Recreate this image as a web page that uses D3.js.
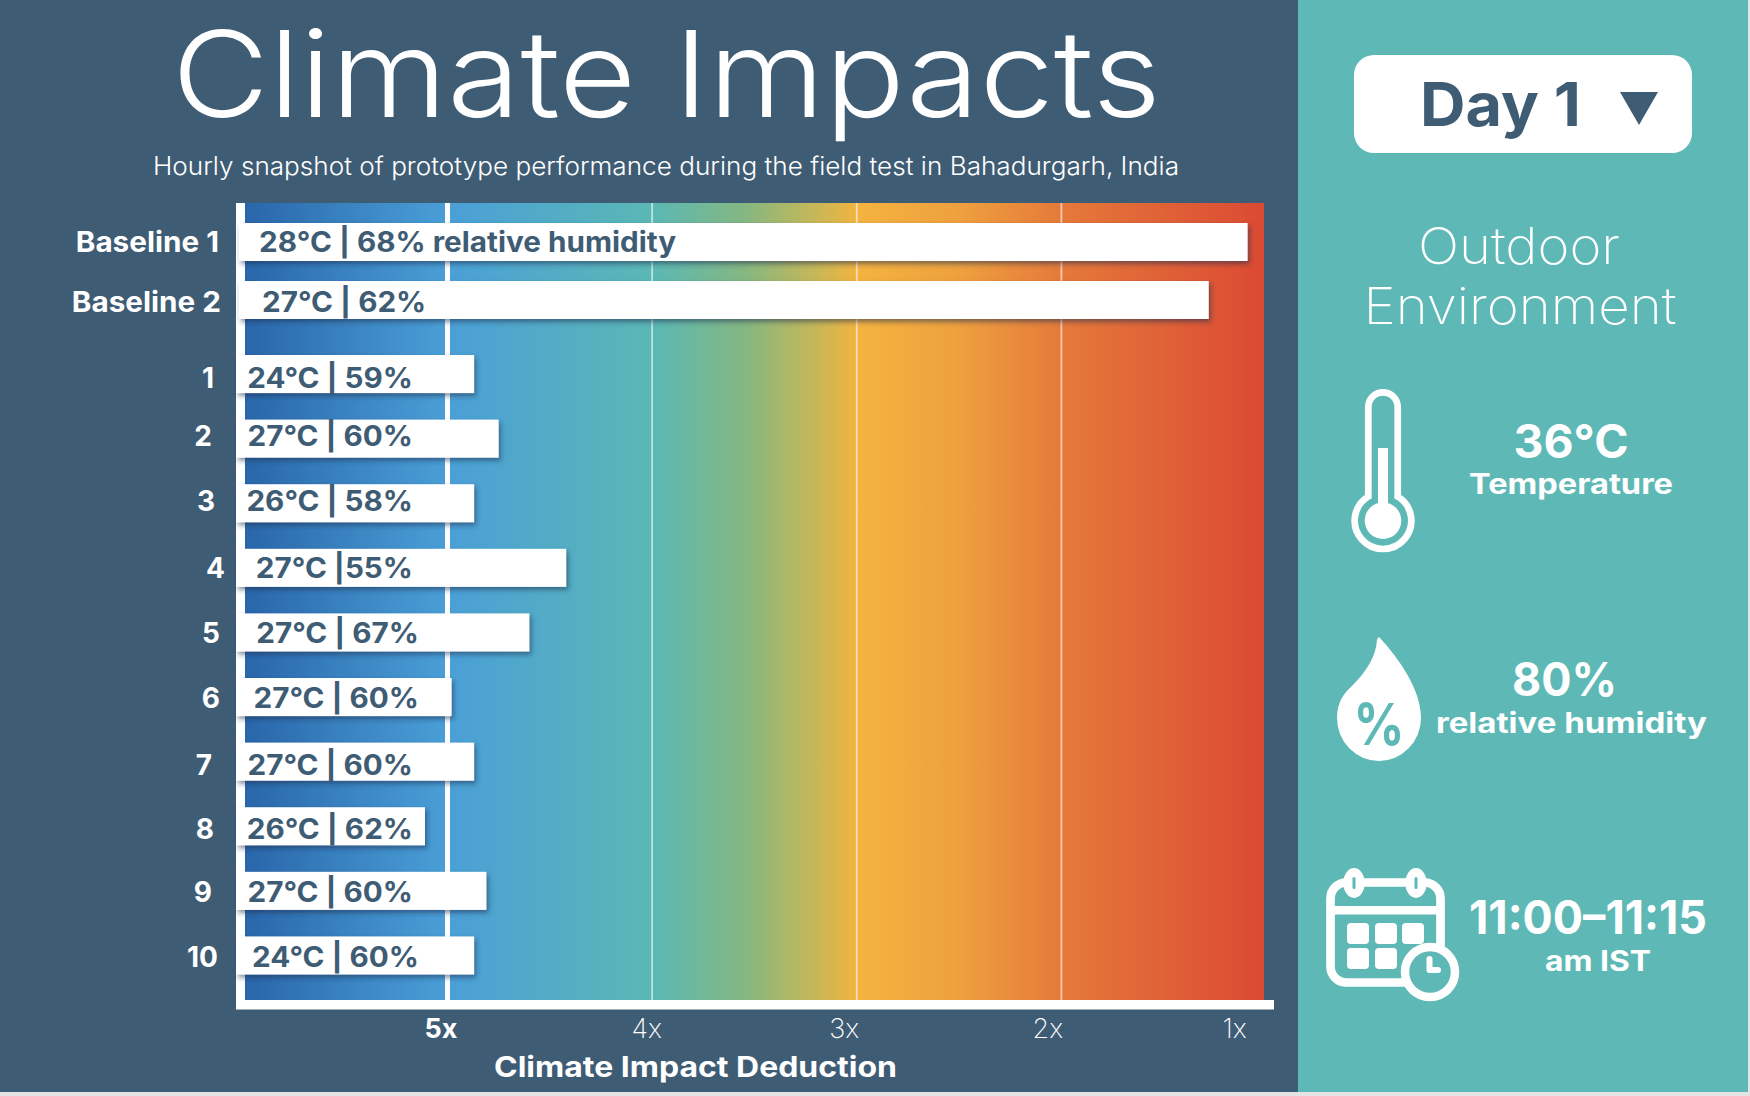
<!DOCTYPE html>
<html><head><meta charset="utf-8">
<script src="https://cdn.jsdelivr.net/npm/d3@7"></script>
<style>
html,body{margin:0;padding:0;background:#e4e4e4;}
svg{display:block;}
text{font-family:Inter,"Open Sans",sans-serif;}
</style></head><body>
<svg id="c" width="1750" height="1096"></svg>
<script>
// ---- data ----
const baselineNames = ["Baseline 1","Baseline 2"];
const baselineValues = [1.09,1.28];
const baselineLabels = ["28°C | 68% relative humidity","27°C | 62%"];
const hours = ["1","2","3","4","5","6","7","8","9","10"];
const hourValues = [4.87,4.75,4.87,4.42,4.60,4.98,4.87,5.11,4.81,4.87];
const hourLabels = ["24°C | 59%","27°C | 60%","26°C | 58%","27°C |55%","27°C | 67%","27°C | 60%","27°C | 60%","26°C | 62%","27°C | 60%","24°C | 60%"];
const axisTicks = [5,4,3,2,1];
const title = "Climate Impacts";
const subtitle = "Hourly snapshot of prototype performance during the field test in Bahadurgarh, India";
const axisTitle = "Climate Impact Deduction";

// ---- layout ----
const DARK="#3f5c75", TEAL="#5eb9b6";
const PLOT={left:245,right:1264,top:203,bottom:1000};
const x=d3.scaleLinear().domain([5,1]).range([447.5,1266]);
const yHour=d3.scaleBand().domain(hours).range([355,974.5]).paddingInner(0.411).paddingOuter(0);
const yBase=d3.scaleBand().domain(baselineNames).range([223,319]).paddingInner(0.345).paddingOuter(0);
const hourBaselineDy=[33,26,27,29,30,30,32,32,30,31];
const baseBaselineDy=[29,31];
const hourLabelEndNudge=[0,0,0,0,6,6,0,0,0,6];
const hourNameRight=[214,212,215,225,220,220,212,214,212,218];
const baseNameRight=[219,221];
const tickLabelNudge={5:-7,4:-6,3:-13,2:-14,1:-32};

const svg=d3.select("#c");
const defs=svg.append("defs");
const grad=defs.append("linearGradient").attr("id","heat")
  .attr("gradientUnits","userSpaceOnUse")
  .attr("x1",PLOT.left).attr("x2",PLOT.right).attr("y1",0).attr("y2",0);
[[245,"#2966aa"],[447,"#4a9fd7"],[654,"#5bb8b4"],[745,"#85b781"],[825,"#d0b752"],[858,"#f4b33f"],[960,"#eea03e"],[1062,"#e5793a"],[1264,"#db4a33"]]
 .forEach(([px,c])=>grad.append("stop").attr("offset",(px-PLOT.left)/(PLOT.right-PLOT.left)).attr("stop-color",c));
const sh=defs.append("filter").attr("id","sh").attr("x","-5%").attr("y","-30%").attr("width","110%").attr("height","170%");
sh.append("feDropShadow").attr("dx",2).attr("dy",3).attr("stdDeviation",2.5).attr("flood-color","#1c3350").attr("flood-opacity",.55);

function fit(sel,k){sel.each(function(){this.setAttribute("lengthAdjust","spacingAndGlyphs");this.setAttribute("textLength",this.getComputedTextLength()*k);});return sel;}
function txt(str,px,py,size,weight,fill,anchor,width){
  const t=svg.append("text").attr("x",px).attr("y",py).attr("font-size",size).attr("font-weight",weight).attr("fill",fill).attr("text-anchor",anchor||"start").text(str);
  if(width){t.attr("lengthAdjust","spacingAndGlyphs").attr("textLength",width);}
  return t;
}

// panels
svg.append("rect").attr("width",1298).attr("height",1092).attr("fill",DARK);
svg.append("rect").attr("x",1298).attr("width",450).attr("height",1092).attr("fill",TEAL);

// title
txt(title,666.5,117,120,300,"#fff","middle",989);
txt(subtitle,666,175,25,300,"#fff","middle",1026);

// plot
svg.append("rect").attr("x",PLOT.left).attr("y",PLOT.top).attr("width",PLOT.right-PLOT.left).attr("height",PLOT.bottom-PLOT.top).attr("fill","url(#heat)");
svg.append("g").selectAll("line").data(axisTicks.filter(d=>d>1)).join("line")
  .attr("x1",d=>x(d)).attr("x2",d=>x(d)).attr("y1",PLOT.top).attr("y2",PLOT.bottom)
  .attr("stroke","#fff").attr("stroke-opacity",d=>d===5?1:.6).attr("stroke-width",d=>d===5?5:1.8);

// axis frame
svg.append("rect").attr("x",236).attr("y",PLOT.top).attr("width",9).attr("height",PLOT.bottom-PLOT.top).attr("fill","#fff");
svg.append("rect").attr("x",236).attr("y",PLOT.bottom).attr("width",1038).attr("height",9.5).attr("fill","#fff");

// tick labels through d3 axis
const axG=svg.append("g").attr("transform",`translate(0,${1009})`)
  .call(d3.axisBottom(x).tickValues(axisTicks).tickSize(0).tickPadding(29).tickFormat(d=>d+"x"));
axG.select(".domain").remove();
axG.selectAll("text")
  .attr("font-family","Inter").attr("font-size",27).attr("fill","#fff")
  .attr("font-weight",d=>d===5?700:200)
  .attr("dy",0).attr("dx",d=>tickLabelNudge[d]);
txt(axisTitle,695.5,1077,28,700,"#fff","middle",403);

// bars
function bars(names,vals,labels,y,x0,dys){
  const g=svg.append("g");
  g.selectAll("rect").data(names).join("rect")
    .attr("x",x0).attr("y",d=>y(d)).attr("height",y.bandwidth())
    .attr("width",(d,i)=>x(vals[i])-x0).attr("fill","#fff").attr("filter","url(#sh)");
}
bars(baselineNames,baselineValues,baselineLabels,yBase,239);
bars(hours,hourValues,hourLabels,yHour,236);

// bar labels
const LK=1.06;
const bl=svg.append("g").selectAll("text").data(baselineLabels).join("text")
  .attr("font-size",28).attr("font-weight",700).attr("fill",DARK)
  .attr("x",(d,i)=>i===0?259:262).attr("y",(d,i)=>yBase(baselineNames[i])+baseBaselineDy[i]).text(d=>d);
fit(bl,LK);
const hl=svg.append("g").selectAll("text").data(hourLabels).join("text")
  .attr("font-size",28).attr("font-weight",700).attr("fill",DARK).attr("text-anchor","end")
  .attr("x",(d,i)=>413+hourLabelEndNudge[i]).attr("y",(d,i)=>yHour(hours[i])+hourBaselineDy[i]).text(d=>d);
fit(hl,LK);

// row names
const bn=svg.append("g").selectAll("text").data(baselineNames).join("text")
  .attr("font-size",28).attr("font-weight",700).attr("fill","#fff").attr("text-anchor","end")
  .attr("x",(d,i)=>baseNameRight[i]).attr("y",(d,i)=>yBase(d)+baseBaselineDy[i]).text(d=>d);
fit(bn,1.06);
svg.append("g").selectAll("text").data(hours).join("text")
  .attr("font-size",28).attr("font-weight",700).attr("fill","#fff").attr("text-anchor","end")
  .attr("x",(d,i)=>hourNameRight[i]).attr("y",(d,i)=>yHour(d)+hourBaselineDy[i]).text(d=>d);

// side panel: dropdown
svg.append("rect").attr("x",1354).attr("y",55).attr("width",338).attr("height",98).attr("rx",20).attr("fill","#fff");
txt("Day 1",1420,126,60,700,DARK,"start",161);
svg.append("path").attr("d",d3.line()([[1620,92],[1658,92],[1639,125]])+"Z").attr("fill",DARK);
txt("Outdoor",1519,264,50,200,"#fff","middle",202);
txt("Environment",1520,324,50,200,"#fff","middle",313);

// thermometer
const tc=1383;
const th=svg.append("g").attr("fill","none").attr("stroke","#fff");
th.append("path").attr("stroke-width",6.7).attr("d",`M${tc-14.7},496.5 V407 A14.7,14.7 0 0 1 ${tc+14.7},407 V496.5 A28.3,28.3 0 1 1 ${tc-14.7},496.5 Z`);
th.append("circle").attr("cx",tc).attr("cy",520.7).attr("r",18.3).attr("fill","#fff").attr("stroke","none");
th.append("rect").attr("x",tc-5).attr("y",448).attr("width",10).attr("height",60).attr("fill","#fff").attr("stroke","none");
txt("36°C",1571,458,46,700,"#fff","middle",115);
txt("Temperature",1571,494,28,700,"#fff","middle",204);

// drop
svg.append("path").attr("fill","#fff").attr("d","M1380,638 C1400,660 1421,690 1421,718 A42,43 0 0 1 1337,718 C1337,702 1344,693 1352,686 C1368,670 1376,655 1377,640 Q1378,636 1380,638 Z");
txt("%",1379,745,58,700,TEAL,"middle",51);
txt("80%",1564.5,696,46,700,"#fff","middle",105);
txt("relative humidity",1571.5,733,28,700,"#fff","middle",271);

// calendar
const cal=svg.append("g");
cal.append("rect").attr("x",1330.5).attr("y",882.5).attr("width",110).attr("height",100).attr("rx",16).attr("fill","none").attr("stroke","#fff").attr("stroke-width",8.7);
cal.append("rect").attr("x",1330).attr("y",906).attr("width",111).attr("height",8.5).attr("fill","#fff");
[1354,1416].forEach(cx=>{
  cal.append("ellipse").attr("cx",cx).attr("cy",883).attr("rx",10.7).attr("ry",15).attr("fill","#fff");
  cal.append("rect").attr("x",cx-1.5).attr("y",877).attr("width",3).attr("height",12).attr("rx",1.5).attr("fill",TEAL);
});
[[1347,923],[1375,923],[1402,923],[1347,948],[1375,948]].forEach(([a,b])=>
  cal.append("rect").attr("x",a).attr("y",b).attr("width",22).attr("height",21).attr("rx",4).attr("fill","#fff"));
cal.append("circle").attr("cx",1430).attr("cy",972).attr("r",25).attr("fill",TEAL).attr("stroke","#fff").attr("stroke-width",8.5);
cal.append("path").attr("d","M1429.5,959 V970 H1438").attr("fill","none").attr("stroke","#fff").attr("stroke-width",6).attr("stroke-linecap","round").attr("stroke-linejoin","round");
txt("11:00–11:15",1588,934,46,700,"#fff","middle",238);
txt("am IST",1598,971,28,700,"#fff","middle",106);
</script></body></html>
